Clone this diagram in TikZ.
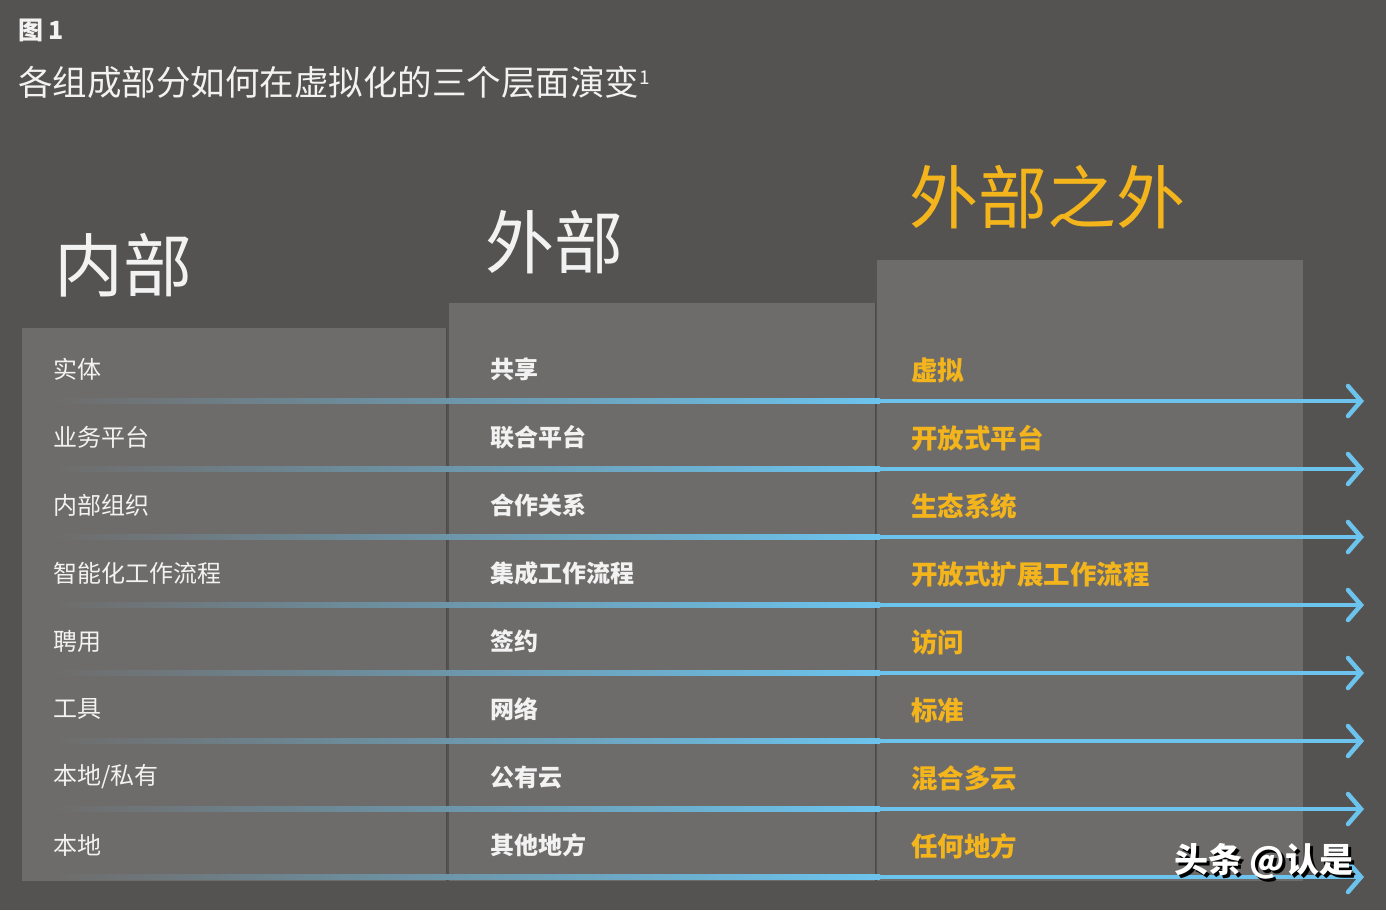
\documentclass[tikz,border=0pt]{standalone}
\usepackage{fontspec}
\setmainfont{Noto Sans CJK SC}
\usetikzlibrary{arrows.meta}
\definecolor{bg}{HTML}{545352}
\definecolor{colfill}{HTML}{6E6C6B}
\definecolor{coledge}{HTML}{4C4B4A}
\definecolor{ablue}{HTML}{6CC4EE}
\definecolor{asteel}{HTML}{6F92AB}
\definecolor{gold}{HTML}{F3B51B}
\definecolor{wtext}{HTML}{F2F2F2}
\tikzset{
  colbox/.style={fill=colfill},
  rowA/.style={anchor=west, text=wtext, font=\fontsize{24}{24}\selectfont, inner sep=0pt},
  rowB/.style={anchor=west, text=wtext, font=\bfseries\fontsize{24}{24}\selectfont, inner sep=0pt},
  rowC/.style={anchor=west, text=gold, font=\bfseries\fontsize{26.5}{26.5}\selectfont, inner sep=0pt},
  header/.style={anchor=west, inner sep=0pt, font=\fontsize{69}{69}\selectfont},
  arrowline/.style={draw=ablue, line width=4.5pt, -{Straight Barb[length=13pt,width=30pt,line cap=round]}}
}
\begin{document}
\begin{tikzpicture}[x=1pt,y=-1pt]
\useasboundingbox (0,0) rectangle (1386,910);
\fill[bg] (0,0) rectangle (1386,910);
% columns
\fill[colbox] (22,328) rectangle (446,881);
\fill[colbox] (449,303) rectangle (875,881);
\fill[colbox] (877,260) rectangle (1303,881);
\draw[coledge, line width=1.5pt] (446.5,328) -- (446.5,881);
\draw[coledge, line width=1.5pt] (875.5,303) -- (875.5,881);
% titles
\node[anchor=west, inner sep=0pt, text=wtext, font=\bfseries\fontsize{25}{25}\selectfont] (fig) at (18,30) {图 1};
\node[anchor=west, inner sep=0pt, text=wtext, font=\fontsize{34.5}{34.5}\selectfont] (title) at (18,82) {各组成部分如何在虚拟化的三个层面演变\raisebox{0.32em}{\fontsize{19}{19}\selectfont 1}};
% headers
\node[header, text=wtext] (h1) at (54,265) {内部};
\node[header, text=wtext] (h2) at (485,242) {外部};
\node[header, text=gold] (h3) at (909,197) {外部之外};
% arrows
\foreach \i in {0,...,7} {
  \pgfmathsetmacro{\yy}{401+68*\i}
  \coordinate (s\i) at (55,\yy);
  \coordinate (m\i) at (880,\yy);
  \coordinate (e\i) at (1364,\yy);
  \shade[left color=colfill, middle color=asteel, right color=ablue] (55,\yy-2.25) rectangle (880,\yy+2.25);
  \draw[arrowline] (m\i) -- (e\i);
}
% rows
\node[rowA] (a0) at (53,369) {实体};
\node[rowA] (a1) at (53,437) {业务平台};
\node[rowA] (a2) at (53,505) {内部组织};
\node[rowA] (a3) at (53,573) {智能化工作流程};
\node[rowA] (a4) at (53,641) {聘用};
\node[rowA] (a5) at (53,709) {工具};
\node[rowA] (a6) at (53,777) {本地/私有};
\node[rowA] (a7) at (53,845) {本地};
\node[rowB] (b0) at (490,369) {共享};
\node[rowB] (b1) at (490,437) {联合平台};
\node[rowB] (b2) at (490,505) {合作关系};
\node[rowB] (b3) at (490,573) {集成工作流程};
\node[rowB] (b4) at (490,641) {签约};
\node[rowB] (b5) at (490,709) {网络};
\node[rowB] (b6) at (490,777) {公有云};
\node[rowB] (b7) at (490,845) {其他地方};
\node[rowC] (c0) at (911,370) {虚拟};
\node[rowC] (c1) at (911,438) {开放式平台};
\node[rowC] (c2) at (911,506) {生态系统};
\node[rowC] (c3) at (911,574) {开放式扩展工作流程};
\node[rowC] (c4) at (911,642) {访问};
\node[rowC] (c5) at (911,710) {标准};
\node[rowC] (c6) at (911,778) {混合多云};
\node[rowC] (c7) at (911,846) {任何地方};
% watermark (text with drop shadow in one node)
\node[anchor=west, inner sep=0pt, font=\bfseries\fontsize{34}{34}\selectfont] (wm) at (1174,863)
  {\rlap{\raisebox{-3pt}{\hspace{3pt}\textcolor{black}{头条 @认是}}}\textcolor{white}{头条 @认是}};
\end{tikzpicture}
\end{document}
